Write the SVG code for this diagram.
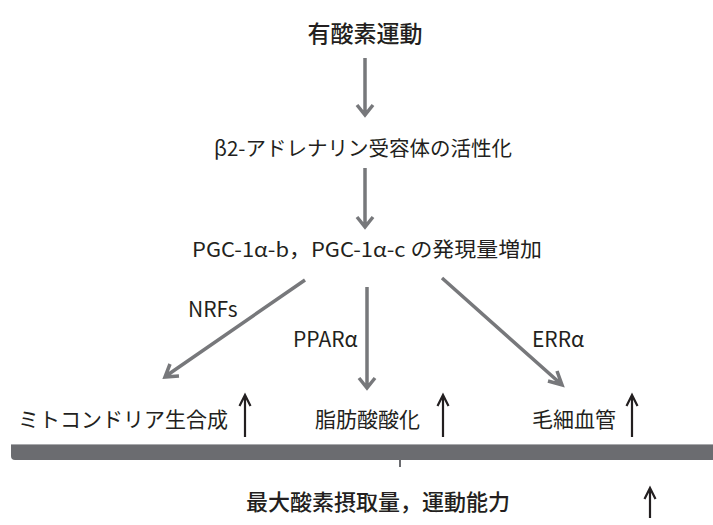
<svg xmlns="http://www.w3.org/2000/svg" width="713" height="525" viewBox="0 0 713 525">
<defs>
<style>
text{font-family:"Noto Sans CJK JP","Noto Sans",sans-serif;fill:#231f20}
.title{font-size:23px;font-weight:500;text-anchor:middle}
.bot{font-size:22px;font-weight:500;text-anchor:middle}
.mid{font-size:20.5px;font-weight:400;text-anchor:middle}
.lbl{font-size:21px;font-weight:400}
.res{font-size:21px;font-weight:400}
.g{stroke:#77787b;stroke-width:3.5;fill:none}
.k{stroke:#231f20;stroke-width:2.2;fill:none}
</style>
</defs>
<rect width="713" height="525" fill="#fff"/>
<g id="n-aerobic"><text class="title" x="365" y="42">有酸素運動</text></g>
<g id="n-beta2"><text class="mid" x="363" y="156">β2-アドレナリン受容体の活性化</text></g>
<g id="n-pgc"><text class="mid" x="367" y="257" textLength="350" lengthAdjust="spacingAndGlyphs">PGC-1α-b，PGC-1α-c の発現量増加</text></g>
<g id="n-mito"><text class="res" x="18" y="427">ミトコンドリア生合成</text><path class="k" d="M245,437V396M239.5,406L245,395L250.5,406"/></g>
<g id="n-fat"><text class="res" x="315" y="427">脂肪酸酸化</text><path class="k" d="M443,437V396M437.5,406L443,395L448.5,406"/></g>
<g id="n-cap"><text class="res" x="532" y="427">毛細血管</text><path class="k" d="M632,437V396M626.5,406L632,395L637.5,406"/></g>
<g id="n-bar">
<path d="M11,444H713V460H15Q11,460 11,456Z" fill="#6b6c70"/>
<path d="M11,444.5H713" stroke="#a8a9ac" stroke-width="1"/>
<path d="M400,460V467" stroke="#6b6c70" stroke-width="2"/>
</g>
<g id="n-vo2"><text class="bot" x="378" y="510">最大酸素摂取量，運動能力</text><path class="k" d="M650,518V489M644.5,499L650,488L655.5,499"/></g>
<g id="connectors">
<path class="g" d="M305,280L166,376M170,364L165,377L179,376"/>
<path class="g" d="M365,58V114M357,105L365,115L373,105"/>
<path class="g" d="M365,168V226M357,217L365,227L373,217"/>
<path class="g" d="M367,287V387M359,378L367,388L375,378"/>
<path class="g" d="M442,278L561,384M548,381L562,385L557,371"/>
<text class="lbl" x="188" y="317">NRFs</text>
<text class="lbl" x="293" y="347">PPARα</text>
<text class="lbl" x="532" y="347">ERRα</text>
</g>
</svg>
